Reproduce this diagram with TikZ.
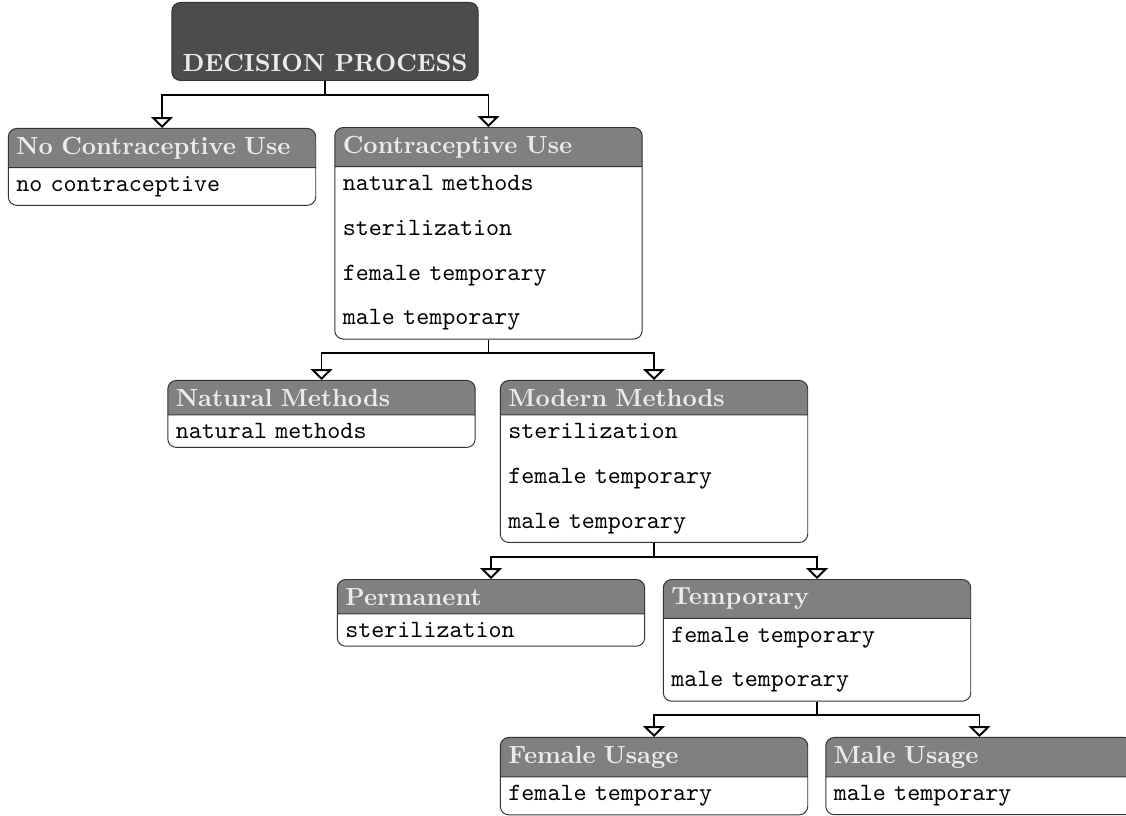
\documentclass[tikz,border=0pt]{standalone}
\usepackage{xcolor}
\usepackage{tikz}
\usetikzlibrary{shapes.multipart}
\usetikzlibrary{arrows.meta}

\newcommand{\itemfont}{\normalfont\ttfamily\color{black}}
\newcommand{\boxsize}{\fontsize{10.25pt}{12.3pt}\selectfont}

\tikzset{
	topbox/.style={draw=black!80,fill=black!70,rounded corners=3.5pt,
		minimum width=126.5pt,text height=25pt,text depth=0pt,inner sep=3.6pt,
		font=\boxsize\bfseries,text=white!92!black,anchor=north},
	classbox/.style={rectangle split,rectangle split parts=2,
		rectangle split part fill={black!50,white},draw=black!80,
		rounded corners=3.5pt,text width=120.3pt,align=left,
		font=\boxsize\bfseries,text=white!92!black,anchor=north},
	link/.style={thick,-{Triangle[open,width=9pt,length=4.5pt]}}
}

\begin{document}
\begin{tikzpicture}
	\useasboundingbox (0,0) rectangle (16.345,-11.845);
	\node[topbox] (dp) at (4.718,-0.029) {DECISION PROCESS};
	% level 1
	\node[classbox] (noUse) at (2.352,-1.858) {No Contraceptive Use
		\nodepart{two}\itemfont no contraceptive};
	\node[classbox] (use) at (7.091,-1.844) {Contraceptive Use
		\nodepart{two}\itemfont natural methods\\[6.2pt] sterilization\\[6.2pt]
		female temporary\\[6.2pt] male temporary};
	% level 2
	\node[classbox] (natural) at (4.667,-5.516) {Natural Methods
		\nodepart{two}\itemfont natural methods};
	\node[classbox] (modern) at (9.494,-5.516) {Modern Methods
		\nodepart{two}\itemfont sterilization\\[6.2pt] female temporary\\[6.2pt]
		male temporary};
	% level 3
	\node[classbox] (permanent) at (7.127,-8.405) {Permanent
		\nodepart{two}\itemfont sterilization};
	\node[classbox] (temporary) at (11.860,-8.405) {Temporary
		\nodepart{two}\itemfont female temporary\\[6.2pt] male temporary};
	% level 4
	\node[classbox] (female) at (9.494,-10.698) {Female Usage
		\nodepart{two}\itemfont female temporary};
	\node[classbox] (male) at (14.218,-10.698) {Male Usage
		\nodepart{two}\itemfont male temporary};
	% links
	\draw[link] (dp.south) -- ++(0,-0.2) -| (noUse.north);
	\draw[link] (dp.south) -- ++(0,-0.2) -| (use.north);
	\draw[link] (use.south) -- ++(0,-0.2) -| (natural.north);
	\draw[link] (use.south) -- ++(0,-0.2) -| (modern.north);
	\draw[link] (modern.south) -- ++(0,-0.2) -| (permanent.north);
	\draw[link] (modern.south) -- ++(0,-0.2) -| (temporary.north);
	\draw[link] (temporary.south) -- ++(0,-0.2) -| (female.north);
	\draw[link] (temporary.south) -- ++(0,-0.2) -| (male.north);
\end{tikzpicture}
\end{document}
